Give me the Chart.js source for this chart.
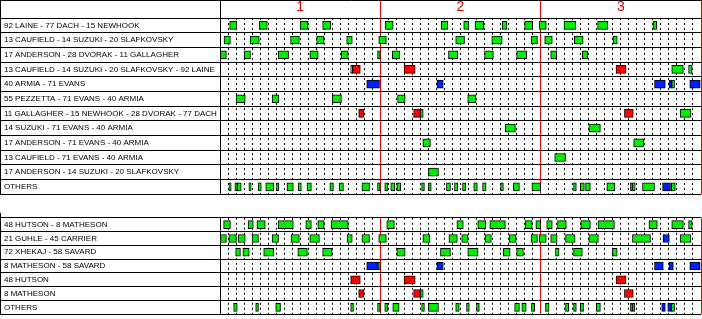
<!DOCTYPE html>
<html lang="en">
<head>
    <meta charset="UTF-8">
    <title>Shift chart</title>
    <style>
        body {
            margin: 0;
            padding: 0;
            background: #fff;
            overflow: hidden;
        }
        canvas {
            position: absolute;
            left: 0;
        }
        #topChart { top: 0; }
        #bottomChart { top: 213px; }
    </style>
</head>
<body>
    <canvas id="topChart" width="702" height="199"></canvas>
    <canvas id="bottomChart" width="702" height="106"></canvas>

    <script src="https://cdn.jsdelivr.net/npm/chart.js"></script>
    <script>
        // Row labels
        const topRows = [
            '92 LAINE - 77 DACH - 15 NEWHOOK',
            '13 CAUFIELD - 14 SUZUKI - 20 SLAFKOVSKY',
            '17 ANDERSON - 28 DVORAK - 11 GALLAGHER',
            '13 CAUFIELD - 14 SUZUKI - 20 SLAFKOVSKY - 92 LAINE',
            '40 ARMIA - 71 EVANS',
            '55 PEZZETTA - 71 EVANS - 40 ARMIA',
            '11 GALLAGHER - 15 NEWHOOK - 28 DVORAK - 77 DACH',
            '14 SUZUKI - 71 EVANS - 40 ARMIA',
            '17 ANDERSON - 71 EVANS - 40 ARMIA',
            '13 CAUFIELD - 71 EVANS - 40 ARMIA',
            '17 ANDERSON - 14 SUZUKI - 20 SLAFKOVSKY',
            'OTHERS'
        ];
        const bottomRows = [
            '48 HUTSON - 8 MATHESON',
            '21 GUHLE - 45 CARRIER',
            '72 XHEKAJ - 58 SAVARD',
            '8 MATHESON - 58 SAVARD',
            '48 HUTSON',
            '8 MATHESON',
            'OTHERS'
        ];

        // Period labels (placed at the middle of each 20 minute period)
        const periodLabels = ['1', '2', '3'];

        // Shifts: [row, start minute, end minute]
        const topGreen = [
            [0, 1.2, 2.1], [0, 4.9, 5.9], [0, 10, 11], [0, 12.8, 13.8], [0, 20.6, 21.6], [0, 27.6, 28.4],
            [0, 30.4, 31.05], [0, 31.8, 32.9], [0, 35.2, 35.8], [0, 38.0, 39.0], [0, 39.8, 40.7],
            [0, 42.9, 44.4], [0, 47.1, 48.4], [0, 54.0, 54.5],
            [1, 0.5, 1.3], [1, 3.75, 4.9], [1, 8.8, 9.9], [1, 12.05, 13.0], [1, 15.8, 16.5], [1, 19.8, 20.75],
            [1, 29.4, 30.5], [1, 33.9, 35.2], [1, 38.8, 39.6], [1, 40.5, 41.45], [1, 44.2, 45.3], [1, 49.0, 49.55],
            [2, 0, 0.8], [2, 3.0, 3.8], [2, 7.25, 8.55], [2, 11.2, 12.25], [2, 15.1, 16.0], [2, 19.65, 20],
            [2, 21.5, 22.4], [2, 28.5, 29.65], [2, 33.0, 34.1], [2, 37.0, 38.25], [2, 41.25, 42.0], [2, 45.2, 45.85],
            [3, 16.3, 16.55], [3, 56.35, 57.8], [3, 58.45, 58.9],
            [4, 56.35, 56.7],
            [5, 2.0, 3.15], [5, 6.5, 7.35], [5, 14.0, 15.15], [5, 22.15, 23.1], [5, 30.9, 31.95],
            [6, 25.0, 25.35], [6, 57.4, 58.75],
            [7, 35.6, 36.85], [7, 46.0, 47.45],
            [8, 25.3, 26.25], [8, 51.6, 52.9],
            [9, 41.75, 43.1],
            [10, 26.0, 27.25],
            [11, 1.1, 1.4], [11, 1.85, 2.15], [11, 2.15, 2.65], [11, 3.6, 3.9], [11, 4.75, 5.15], [11, 5.7, 6.7],
            [11, 7.05, 7.35], [11, 8.35, 9.15], [11, 9.75, 10.15], [11, 10.85, 11.4], [11, 13.7, 14.15],
            [11, 14.85, 15.4], [11, 17.7, 18.65], [11, 19.65, 20], [11, 20.55, 20.95], [11, 21.3, 21.8],
            [11, 22.05, 22.55], [11, 25.15, 25.5], [11, 26.0, 26.35], [11, 28.25, 28.75], [11, 29.25, 29.65],
            [11, 30.25, 30.65], [11, 31.65, 32.1], [11, 32.75, 33.2], [11, 35.0, 35.35], [11, 36.6, 37.35],
            [11, 38.9, 40], [11, 44.1, 44.45], [11, 44.95, 45.45], [11, 45.6, 46.2], [11, 48.25, 49.25],
            [11, 51.45, 51.8], [11, 52.7, 54.2], [11, 56.3, 56.8]
        ];
        const topRed = [
            [3, 16.55, 17.5], [3, 22.95, 24.35], [3, 49.4, 50.65],
            [6, 17.3, 17.95], [6, 24.15, 25.0], [6, 50.45, 51.55],
            [11, 51.2, 51.45]
        ];
        const topBlue = [
            [4, 18.3, 19.9], [4, 27.05, 27.85], [4, 54.2, 55.55], [4, 56.0, 56.35], [4, 58.6, 59.9],
            [11, 55.2, 56.2]
        ];

        const bottomGreen = [
            [0, 0.45, 1.3], [0, 3.5, 4.15], [0, 4.6, 5.65], [0, 7.25, 9.15], [0, 10.7, 11.4], [0, 12.2, 13.0],
            [0, 13.85, 16.0], [0, 20.8, 21.75], [0, 29.55, 30.35], [0, 32.15, 33.15], [0, 33.65, 35.6],
            [0, 38.05, 38.95], [0, 39.4, 40], [0, 40.75, 41.45], [0, 42.1, 43.2], [0, 45.0, 46.2],
            [0, 47.15, 49.2], [0, 53.5, 54.55], [0, 56.35, 57.8], [0, 58.45, 58.9],
            [1, 0, 0.8], [1, 1.1, 2.05], [1, 2.25, 3.15], [1, 4.0, 4.8], [1, 6.5, 7.3], [1, 8.85, 9.9],
            [1, 11.2, 12.4], [1, 15.85, 16.5], [1, 17.7, 18.65], [1, 19.8, 20.75], [1, 25.3, 26.2],
            [1, 28.55, 29.6], [1, 30.15, 30.95], [1, 33.05, 33.85], [1, 36.05, 36.95], [1, 38.8, 39.6],
            [1, 39.8, 40.7], [1, 41.25, 42.05], [1, 43.1, 44.3], [1, 46.0, 47.2], [1, 51.45, 53.7], [1, 57.4, 58.75],
            [2, 1.95, 2.55], [2, 2.85, 3.65], [2, 5.45, 6.7], [2, 9.7, 10.9], [2, 12.8, 14.0], [2, 22.05, 23.1],
            [2, 27.5, 28.75], [2, 30.9, 32.2], [2, 35.35, 36.2], [2, 37.0, 37.85], [2, 41.85, 42.3],
            [2, 44.1, 45.2], [2, 48.95, 49.55],
            [3, 19.7, 20],
            [5, 25.0, 25.35],
            [6, 1.7, 2.15], [6, 4.45, 4.8], [6, 6.95, 7.55], [6, 16.3, 16.65], [6, 19.65, 20], [6, 20.55, 20.95],
            [6, 21.55, 22.35], [6, 25.15, 25.5], [6, 26.0, 27.25], [6, 29.4, 29.85], [6, 30.75, 31.1],
            [6, 32.0, 32.35], [6, 36.75, 37.35], [6, 37.65, 38.2], [6, 38.85, 39.25], [6, 40.6, 41.05],
            [6, 43.1, 43.5], [6, 44.1, 44.45], [6, 44.95, 45.35], [6, 46.95, 47.45], [6, 51.45, 51.75],
            [6, 56.3, 56.7]
        ];
        const bottomRed = [
            [4, 16.3, 17.5], [4, 22.95, 24.35], [4, 49.4, 50.65],
            [5, 17.3, 17.95], [5, 24.15, 25.0], [5, 50.45, 51.55],
            [6, 51.2, 51.45]
        ];
        const bottomBlue = [
            [1, 55.25, 56.05],
            [3, 18.3, 19.7], [3, 27.05, 27.85], [3, 54.2, 55.3], [3, 56.0, 56.55], [3, 58.6, 59.9],
            [6, 55.1, 55.55], [6, 55.85, 56.3]
        ];

        const GREEN = '#00ee00';
        const RED = '#ff0000';
        const BLUE = '#0020ff';
        const LINE_RED = '#e00000';

        Chart.defaults.font.family = "'Liberation Sans', Arial, sans-serif";

        function toPoints(list, rows) {
            return list.map(([r, s, e]) => ({ x: [s, e], y: rows[r] }));
        }

        function makeDataset(list, rows, color) {
            return {
                data: toPoints(list, rows),
                backgroundColor: color,
                borderColor: '#000',
                borderWidth: 1,
                borderSkipped: false,
                barThickness: 8,
                grouped: false
            };
        }

        // black frame on the left and on top of the table
        const framePlugin = {
            id: 'frame',
            afterDraw(chart, args, opts) {
                const ctx = chart.ctx;
                const area = chart.chartArea;
                ctx.save();
                ctx.strokeStyle = '#000';
                ctx.lineWidth = 1;
                ctx.beginPath();
                ctx.moveTo(0.5, 0);
                ctx.lineTo(0.5, area.bottom + 1);
                if (opts.header) {
                    ctx.moveTo(0, 0.5);
                    ctx.lineTo(area.right, 0.5);
                }
                ctx.stroke();
                ctx.restore();
            }
        };

        function boundaryColor(value) {
            if (value === 0) return '#000';
            if (value % 20 === 0) return LINE_RED;
            return 'rgba(0,0,0,0)';
        }

        function makeChart(id, rows, green, red, blue, header) {
            return new Chart(document.getElementById(id), {
                type: 'bar',
                data: {
                    labels: rows,
                    datasets: [
                        makeDataset(red, rows, RED),
                        makeDataset(blue, rows, BLUE),
                        makeDataset(green, rows, GREEN)
                    ]
                },
                plugins: [framePlugin],
                options: {
                    indexAxis: 'y',
                    responsive: false,
                    animation: false,
                    devicePixelRatio: 1,
                    layout: { padding: { left: 4, right: 1, top: 0, bottom: 1 } },
                    plugins: {
                        legend: { display: false },
                        tooltip: { enabled: false },
                        frame: { header: header }
                    },
                    scales: {
                        x: {
                            type: 'linear',
                            position: 'bottom',
                            min: 0,
                            max: 60,
                            z: -1,
                            afterBuildTicks: s => {
                                s.ticks = Array.from({ length: 61 }, (_, i) => ({ value: i }));
                            },
                            grid: { color: '#000', lineWidth: 1, drawTicks: false },
                            border: { display: false, dash: [2, 3] },
                            ticks: { display: false },
                            afterFit: s => { s.height = 0; }
                        },
                        x2: {
                            type: 'linear',
                            axis: 'x',
                            position: 'top',
                            min: 0,
                            max: 60,
                            afterBuildTicks: s => {
                                s.ticks = [0, 10, 20, 30, 40, 50, 60].map(v => ({ value: v }));
                            },
                            grid: {
                                color: c => boundaryColor(c.tick.value),
                                tickColor: c => boundaryColor(c.tick.value),
                                lineWidth: 1,
                                drawTicks: header,
                                tickLength: header ? 18 : 0
                            },
                            border: { display: false },
                            ticks: {
                                display: header,
                                autoSkip: false,
                                maxRotation: 0,
                                color: LINE_RED,
                                font: { size: 14 },
                                padding: -16,
                                callback: v => (v % 20 === 10 ? periodLabels[(v - 10) / 20] : '')
                            },
                            afterFit: s => { s.height = header ? 18 : 0; }
                        },
                        y: {
                            type: 'category',
                            position: 'left',
                            grid: {
                                offset: true,
                                color: '#000',
                                tickColor: '#000',
                                lineWidth: 1,
                                drawTicks: true,
                                tickLength: 220
                            },
                            border: { display: false },
                            ticks: {
                                autoSkip: false,
                                crossAlign: 'far',
                                color: '#000',
                                padding: 0,
                                font: { size: 8 }
                            },
                            afterFit: s => { s.width = 216; }
                        }
                    }
                }
            });
        }

        makeChart('topChart', topRows, topGreen, topRed, topBlue, true);
        makeChart('bottomChart', bottomRows, bottomGreen, bottomRed, bottomBlue, false);
    </script>
</body>
</html>
